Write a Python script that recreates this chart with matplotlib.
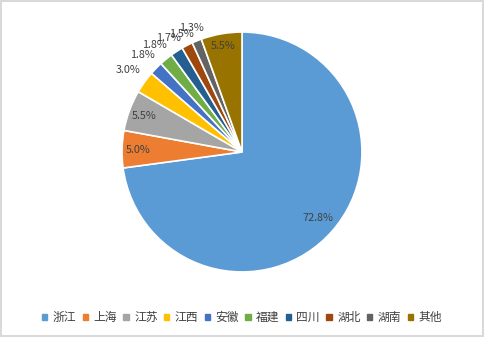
import matplotlib
matplotlib.use("Agg")
import matplotlib.pyplot as plt
import numpy as np

plt.rcParams['font.family'] = ['Noto Sans CJK SC', 'DejaVu Sans']

categories = ['浙江', '上海', '江苏', '江西', '安徽', '福建', '四川', '湖北', '湖南', '其他']
values = [72.8, 5.0, 5.5, 3.0, 1.8, 1.8, 1.7, 1.5, 1.3, 5.5]
labels = ['72.8%', '5.0%', '5.5%', '3.0%', '1.8%', '1.8%', '1.7%', '1.5%', '1.3%', '5.5%']
colors = ['#5B9BD5', '#ED7D31', '#A5A5A5', '#FFC000', '#4472C4',
          '#70AD47', '#255E91', '#9E480E', '#636363', '#997300']
label_r = [0.84, 0.87, 0.87, 1.17, 1.16, 1.15, 1.13, 1.11, 1.12, 0.9]

fig = plt.figure(figsize=(4.84, 3.37), dpi=100, edgecolor='#D9D9D9', linewidth=1.5)
ax = fig.add_axes([0.252, 0.193, 0.496, 0.712])
wedges, _ = ax.pie(values, colors=colors, startangle=90, counterclock=False,
                   wedgeprops=dict(edgecolor='white', linewidth=1.2), radius=1.0)
ax.set_xlim(-1, 1)
ax.set_ylim(-1, 1)
ax.set_aspect('equal')

for w, lab, r in zip(wedges, labels, label_r):
    ang = np.deg2rad((w.theta1 + w.theta2) / 2)
    ax.text(r * np.cos(ang), r * np.sin(ang), lab, ha='center', va='center',
            fontsize=7.8, color='#404040')

handles = [plt.Rectangle((0, 0), 1, 1, color=c) for c in colors]
fig.legend(handles, categories, loc='center', bbox_to_anchor=(0.5, 0.058), ncol=10,
           frameon=False, fontsize=8.5, handlelength=0.45, handleheight=0.45,
           handletextpad=0.45, columnspacing=0.55, labelcolor='#404040')

fig.savefig('out.png', dpi=100, edgecolor=fig.get_edgecolor())
